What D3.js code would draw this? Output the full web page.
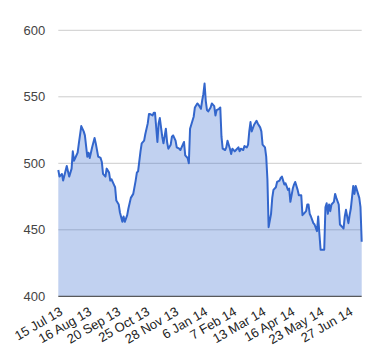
<!DOCTYPE html>
<html>
<head>
<meta charset="utf-8">
<script src="https://cdn.jsdelivr.net/npm/d3@7"></script>
<style>
  body { margin: 0; background: #fff; }
  text { font-family: Arial, "Liberation Sans", sans-serif; }
</style>
</head>
<body>
<svg id="chart" width="380" height="360"></svg>
<script>
// trading-day index of each sample (0 = 15 Jul 13)
let days = [0, 1, 3, 4, 7, 9, 11, 12, 13, 14, 16, 17, 19, 21, 22, 24, 25, 26, 28, 30,
  31, 33, 35, 36, 37, 39, 40, 42, 43, 44, 46, 47, 48, 50, 51, 53, 54, 55, 57, 58,
  60, 62, 64, 65, 66, 68, 69, 71, 72, 74, 75, 76, 78, 79, 80, 82, 83, 84, 86, 87,
  89, 90, 91, 93, 94, 95, 97, 98, 100, 101, 102, 104, 105, 107, 108, 109, 111, 112, 113, 115,
  116, 118, 119, 120, 121, 122, 123, 124, 126, 127, 129, 130, 131, 133, 134, 135, 136, 138, 139, 140,
  142, 143, 144, 146, 147, 149, 150, 151, 153, 154, 156, 157, 158, 159, 160, 162, 164, 165, 167, 168,
  169, 171, 172, 173, 174, 176, 177, 178, 180, 181, 183, 184, 185, 187, 188, 190, 191, 192, 194, 195,
  196, 198, 199, 201, 202, 203, 205, 206, 207, 208, 209, 211, 212, 214, 215, 216, 217, 218, 220, 221,
  222, 223, 224, 225, 226, 228, 229, 230, 232, 233, 235, 236, 237, 238, 240, 241, 242, 244, 245, 246,
  247, 249, 250, 251];

// closing price
let prices = [495, 490, 492, 487, 498, 490, 496, 509, 502, 504, 508, 515, 528, 524, 521, 505, 508, 504, 512, 519,
  515, 505, 504, 501, 492, 490, 496, 493, 487, 488, 484, 482, 472, 469, 463, 456, 460, 456, 461, 466,
  474, 477, 487, 493, 494, 509, 515, 517, 522, 530, 537, 537, 536, 538, 538, 516, 530, 534, 520, 515,
  526, 516, 511, 514, 520, 521, 517, 512, 511, 510, 512, 516, 506, 504, 500, 526, 532, 535, 542, 545,
  544, 541, 547, 552, 560, 547, 540, 539, 542, 545, 543, 536, 540, 541, 542, 520, 511, 510, 512, 517,
  511, 507, 511, 509, 510, 512, 509, 511, 510, 513, 512, 514, 524, 531, 524, 529, 532, 530, 527, 524,
  514, 512, 505, 488, 452, 462, 474, 480, 482, 486, 487, 489, 490, 484, 485, 480, 481, 471, 481, 484,
  486, 480, 476, 476, 461, 462, 464, 469, 469, 462, 460, 455, 454, 449, 460, 447, 435, 435, 435, 467,
  470, 462, 469, 464, 469, 471, 477, 474, 469, 454, 452, 451, 460, 465, 455, 461, 466, 483, 477, 483,
  480, 474, 467, 441];

let tickDays = [0, 24, 48, 72, 96, 120, 144, 168, 192, 216, 240];
let tickLabels = ["15 Jul 13", "16 Aug 13", "20 Sep 13", "25 Oct 13", "28 Nov 13", "6 Jan 14",
  "7 Feb 14", "13 Mar 14", "16 Apr 14", "23 May 14", "27 Jun 14"];
let yTicks = [400, 450, 500, 550, 600];

let data = days.map((d, i) => ({day: d, price: prices[i]}));

// chart area
let margin = {top: 30.3, left: 58.3},
    width = 303.4,
    height = 266;

let x = d3.scaleLinear().domain([0, 251]).range([0, width]);
let y = d3.scaleLinear().domain([400, 600]).range([height, 0]);

let svg = d3.select("#chart")
  .append("g")
    .attr("transform", "translate(" + margin.left + "," + margin.top + ")");

// gridlines
svg.append("g")
  .selectAll("line")
  .data(yTicks.slice(1))
  .join("line")
    .attr("x1", 0)
    .attr("x2", width)
    .attr("y1", d => y(d))
    .attr("y2", d => y(d))
    .attr("stroke", "#cccccc")
    .attr("stroke-width", 1);

// y labels
svg.append("g")
  .selectAll("text")
  .data(yTicks)
  .join("text")
    .attr("x", -13)
    .attr("y", d => y(d))
    .attr("dy", "0.35em")
    .attr("text-anchor", "end")
    .attr("font-size", 13)
    .attr("fill", "#444444")
    .text(d => d);

// area + line
let area = d3.area()
  .x(d => x(d.day))
  .y0(y(400))
  .y1(d => y(d.price));

let line = d3.line()
  .x(d => x(d.day))
  .y(d => y(d.price));

svg.append("path")
  .datum(data)
  .attr("d", area)
  .attr("fill", "#3366cc")
  .attr("fill-opacity", 0.3);

svg.append("path")
  .datum(data)
  .attr("d", line)
  .attr("fill", "none")
  .attr("stroke", "#3366cc")
  .attr("stroke-width", 2)
  .attr("stroke-linejoin", "round");

// baseline
svg.append("line")
  .attr("x1", 0)
  .attr("x2", width)
  .attr("y1", y(400))
  .attr("y2", y(400))
  .attr("stroke", "#333333")
  .attr("stroke-width", 1);

// x labels, slanted
svg.append("g")
  .selectAll("text")
  .data(tickDays)
  .join("text")
    .attr("text-anchor", "end")
    .attr("font-size", 13)
    .attr("fill", "#222222")
    .attr("transform", (d, i) => "translate(" + (x(d) + 3) + "," + (height + 14) + ") rotate(-30)")
    .attr("dy", "0.35em")
    .text((d, i) => tickLabels[i]);
</script>
</body>
</html>
